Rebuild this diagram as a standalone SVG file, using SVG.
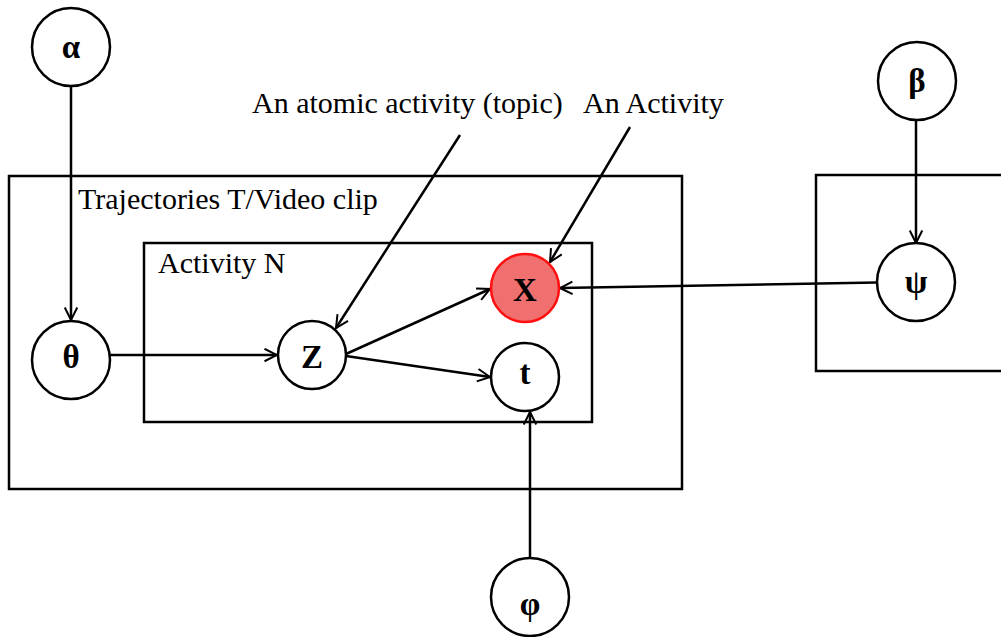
<svg xmlns="http://www.w3.org/2000/svg" width="1001" height="637" viewBox="0 0 1001 637">
<style>
.plate{fill:none;stroke:#000;stroke-width:2.5}
.node{fill:#fff;stroke:#000;stroke-width:2.5}
.obs{fill:#f07070;stroke:#ff1010;stroke-width:2.5}
.lbl{font-family:"Liberation Serif","Times New Roman",serif;font-size:30px;fill:#000}
.sym{font-family:"Liberation Serif","Times New Roman",serif;font-size:33px;font-weight:bold;fill:#000;text-anchor:middle;dominant-baseline:central}
.edge{fill:none;stroke:#000;stroke-width:2.5;marker-end:url(#arr)}
</style>
<defs>
<marker id="arr" viewBox="0 0 12 12" refX="11" refY="6" markerWidth="6" markerHeight="6" orient="auto" markerUnits="strokeWidth">
<path d="M1,1 L11,6 L1,11" fill="none" stroke="#000" stroke-width="1.6"/>
</marker>
</defs>
<rect width="1001" height="637" fill="#fff"/>
<g id="plates">
<rect class="plate" x="9" y="176" width="673" height="313"/>
<rect class="plate" x="144" y="243" width="448" height="179"/>
<rect class="plate" x="816" y="175" width="200" height="196"/>
</g>
<g id="texts">
<text class="lbl" x="78" y="209">Trajectories T/Video clip</text>
<text class="lbl" x="158" y="273">Activity N</text>
<text class="lbl" x="252" y="113">An atomic activity (topic)</text>
<text class="lbl" x="583" y="113">An Activity</text>
</g>
<g id="connectors">
<line class="edge" x1="71" y1="86" x2="71" y2="320"/>
<line class="edge" x1="110" y1="355" x2="277" y2="355"/>
<line class="edge" x1="346" y1="354" x2="490" y2="289"/>
<line class="edge" x1="346" y1="356" x2="490" y2="377"/>
<line class="edge" x1="460" y1="135" x2="336" y2="328"/>
<line class="edge" x1="630" y1="127" x2="550" y2="262"/>
<line class="edge" x1="877" y1="282.5" x2="560" y2="288"/>
<line class="edge" x1="916" y1="120" x2="916" y2="243"/>
<line class="edge" x1="530" y1="558" x2="530" y2="412"/>
</g>
<g id="node-alpha"><circle class="node" cx="71" cy="47" r="39"/><text class="sym" x="71" y="47">α</text></g>
<g id="node-theta"><circle class="node" cx="71" cy="360" r="39"/><text class="sym" x="71" y="357">θ</text></g>
<g id="node-z"><circle class="node" cx="312" cy="355" r="34"/><text class="sym" x="312" y="357">Z</text></g>
<g id="node-x"><circle class="obs" cx="525" cy="288" r="34"/><text class="sym" x="525" y="290">X</text></g>
<g id="node-t"><circle class="node" cx="525" cy="377" r="34"/><text class="sym" x="525" y="373">t</text></g>
<g id="node-beta"><circle class="node" cx="917" cy="81" r="39"/><text class="sym" x="917" y="81">β</text></g>
<g id="node-psi"><circle class="node" cx="916" cy="282" r="39"/><text class="sym" x="916" y="282">ψ</text></g>
<g id="node-phi"><circle class="node" cx="530" cy="597" r="39"/><text class="sym" x="530" y="604">φ</text></g>
</svg>
